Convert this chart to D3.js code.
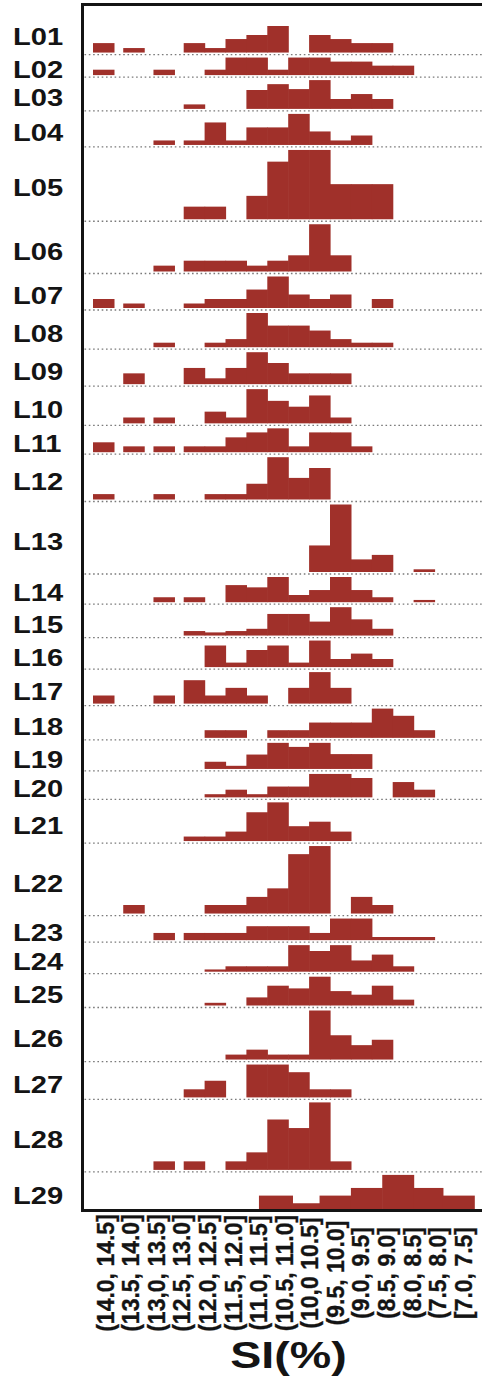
<!DOCTYPE html>
<html><head><meta charset="utf-8">
<script src="https://cdn.jsdelivr.net/npm/d3@7"></script>
<style>html,body{margin:0;padding:0;background:#fff;} svg{display:block;}</style>
</head><body>
<svg id="chart" width="482" height="1384"></svg>
<script>
// ---- data ----
const binLabels = ["(14.0, 14.5]", "(13.5, 14.0]", "(13,0, 13.5]", "(12.5, 13.0]", "(12.0, 12.5]",
  "(11.5, 12.0]", "(11.0, 11.5]", "(10.5, 11.0]", "(10,0 10.5]", "(9.5, 10.0]",
  "(9.0, 9.5]", "(8.5, 9.0]", "(8.0, 8.5]", "(7.5, 8.0]", "[7.0, 7.5]"];
const binUpper = [14.5, 14.0, 13.5, 13.0, 12.5, 12.0, 11.5, 11.0, 10.5, 10.0, 9.5, 9.0, 8.5, 8.0, 7.5];
const rowNames = ["L01","L02","L03","L04","L05","L06","L07","L08","L09","L10","L11","L12","L13","L14",
  "L15","L16","L17","L18","L19","L20","L21","L22","L23","L24","L25","L26","L27","L28","L29"];
const L01 = [2.1,1.0,0,2.1,1.0,3.0,3.9,5.9,0,3.9,3.0,2.1,2.1,0,0];
const L02 = [1.2,0,1.2,0,1.2,3.9,3.9,1.2,3.9,3.9,3.0,3.0,2.1,2.1,0];
const L03 = [0,0,0,1.0,0,0,4.2,5.5,4.4,6.4,2.2,3.3,2.2,0,0];
const L04 = [0,0,1.0,1.0,5.0,1.0,3.9,3.9,6.9,3.0,1.0,2.1,0,0,0];
const L05 = [0,0,0,2.8,2.8,0,5.2,12.8,15.4,15.4,7.8,7.8,7.8,0,0];
const L06 = [0,0,1.3,2.4,2.4,2.4,1.3,2.4,3.6,10.5,3.6,0,0,0,0];
const L07 = [2.0,1.0,0,1.0,2.0,2.0,4.1,7.0,3.0,2.0,3.0,0,2.0,0,0];
const L08 = [0,0,1.0,0,1.0,1.8,7.6,4.8,4.8,3.7,1.8,1.0,1.0,0,0];
const L09 = [0,2.4,0,3.6,1.3,3.6,7.1,4.7,2.4,2.4,2.4,0,0,0,0];
const L10 = [0,1.3,1.3,0,2.6,1.3,7.6,5.0,3.7,6.2,1.3,0,0,0,0];
const L11 = [2.2,1.3,1.3,1.3,1.3,3.3,4.4,5.3,1.3,4.4,4.4,1.3,0,0,0];
const L12 = [1.2,0,1.2,0,1.2,1.2,3.5,9.4,4.8,7.0,0,0,0,0,0];
const L13 = [0,0,0,0,0,0,0,0,0,5.9,15.0,2.8,3.8,0,0.6];
const L14 = [0,0,1.1,1.1,0,3.8,3.3,5.6,1.6,2.7,5.6,2.7,1.1,0,0.5];
const L15 = [0,0,0,1.0,0.7,1.0,1.5,4.8,4.8,3.1,6.3,3.6,1.5,0,0];
const L16 = [0,0,0,0,4.8,1.0,3.8,4.8,1.0,5.9,1.8,3.0,1.8,0,0];
const L17 = [1.8,0,1.8,5.2,1.8,3.5,1.8,0,3.5,7.0,3.5,0,0,0,0];
const L18 = [0,0,0,0,1.7,1.7,0,1.7,1.7,3.4,3.4,3.4,6.5,4.9,1.7];
const L19 = [0,0,0,0,1.6,0.7,3.2,5.8,4.9,5.8,3.3,3.3,0,0,0];
const L20 = [0,0,0,0,0.7,1.7,0.7,2.4,2.4,5.2,5.2,4.3,0,3.4,1.7];
const L21 = [0,0,0,1.0,1.0,2.1,6.4,8.6,3.3,4.3,2.1,0,0,0,0];
const L22 = [0,1.9,0,0,1.9,1.9,3.7,5.6,13.2,15.0,0,3.7,1.9,0,0];
const L23 = [0,0,1.6,1.6,1.6,1.6,3.1,3.1,3.1,1.6,4.8,4.8,0.7,0.7,0.7];
const L24 = [0,0,0,0,0.5,1.2,1.2,1.2,5.9,4.6,5.9,2.5,3.8,1.2,0];
const L25 = [0,0,0,0,0.6,0,1.8,4.4,3.8,6.4,3.2,2.4,4.4,1.3,0];
const L26 = [0,0,0,0,0,1.1,2.2,1.1,1.1,10.9,5.4,3.2,4.4,0,0];
const L27 = [0,0,0,1.8,3.7,0,7.3,7.3,5.6,1.8,1.8,0,0,0,0];
const L28 = [0,0,1.9,1.9,0,1.9,3.9,11.2,9.3,15.0,1.9,0,0,0,0];
// L29 was binned on its own, wider intervals
const L29Edges = [11.2, 10.4, 9.75, 9.0, 8.25, 7.5, 6.8, 6.05];
const L29 = [3.0, 1.3, 3.0, 4.7, 7.6, 4.7, 3.0];
const axisTitle = "SI(%)";

// ---- layout ----
const svg = d3.select("#chart");
const ink = "#141414", barColor = "#a0302a";
const font = "'Liberation Sans', Arial, sans-serif";
const frameLeft = 82.5, frameTop = 4.5, W = 482;
const unit = 4.5;         // px per frequency unit
const gap = 5, topPad = 21.5;

const x = d3.scaleLinear().domain([14.5, 13.0, 7.0]).range([93.3, 184, 434.8]);
const bw = x(12.5) - x(13.0);
const hScale = d3.scaleLinear().domain([0, 1]).range([0, unit]);

const mainRows = [L01,L02,L03,L04,L05,L06,L07,L08,L09,L10,L11,L12,L13,L14,L15,L16,L17,L18,L19,L20,
  L21,L22,L23,L24,L25,L26,L27,L28];
const rows = rowNames.map((name, i) => {
  if (i < mainRows.length) {
    return {name, bars: mainRows[i].map((v, j) => ({x0: binUpper[j], x1: binUpper[j] - 0.5, v, narrow: true}))};
  }
  return {name, bars: L29.map((v, j) => ({x0: L29Edges[j], x1: L29Edges[j + 1], v, narrow: false}))};
});
let prev = null;
rows.forEach((r, i) => {
  const mx = d3.max(r.bars, d => d.v);
  r.base = (i === 0 ? frameTop + topPad : prev.base + gap) + hScale(mx);
  r.top = i === 0 ? frameTop + 4 : prev.base;
  prev = r;
});
const bottomY = rows[rows.length - 1].base + 1.3;

// dotted baselines
svg.append("g").selectAll("line").data(rows.slice(0, -1)).join("line")
  .attr("x1", frameLeft + 2).attr("x2", W)
  .attr("y1", d => d.base + 2).attr("y2", d => d.base + 2)
  .attr("stroke", "#7a7a7a").attr("stroke-width", 1.3).attr("stroke-dasharray", "1.6 2.7");

// bars
const rg = svg.append("g").selectAll("g").data(rows).join("g");
rg.selectAll("rect").data(d => d.bars.filter(b => b.v > 0).map(b => ({...b, base: d.base}))).join("rect")
  .attr("x", b => x(b.x0) - 0.3)
  .attr("width", b => (b.narrow ? bw : x(b.x1) - x(b.x0)) + 0.6)
  .attr("y", b => b.base - hScale(b.v))
  .attr("height", b => hScale(b.v))
  .attr("fill", barColor);

// row labels
svg.append("g").selectAll("text").data(rows).join("text")
  .attr("transform", d => `translate(13,${(d.top + d.base) / 2 + 6 + 8.3}) scale(1.25,1)`)
  .attr("font-family", font).attr("font-weight", "bold")
  .attr("font-size", 23.3).attr("fill", ink)
  .text(d => d.name);

// frame
svg.append("line").attr("x1", frameLeft).attr("x2", frameLeft).attr("y1", frameTop - 1.5).attr("y2", bottomY + 1.5)
  .attr("stroke", ink).attr("stroke-width", 3);
svg.append("line").attr("x1", frameLeft - 1.5).attr("x2", W).attr("y1", frameTop).attr("y2", frameTop)
  .attr("stroke", ink).attr("stroke-width", 3);
svg.append("line").attr("x1", frameLeft - 1.5).attr("x2", W).attr("y1", bottomY).attr("y2", bottomY)
  .attr("stroke", ink).attr("stroke-width", 3);

// bin labels (rotated)
const xl = d3.scalePoint().domain(binLabels).range([105, 463]);
const ax = svg.append("g").attr("transform", "translate(0,1273)")
  .call(d3.axisBottom(xl).tickSize(0));
ax.select(".domain").remove();
ax.selectAll("text")
  .attr("transform", "rotate(-90)")
  .attr("x", 0).attr("y", 0).attr("dy", "0.36em")
  .attr("text-anchor", "middle")
  .attr("font-family", font).attr("font-weight", "bold")
  .attr("font-size", 23).attr("fill", ink)
  .attr("stroke", ink).attr("stroke-width", 0.35);

// axis title
svg.append("text")
  .attr("transform", "translate(288.5,1368) scale(1.26,1)")
  .attr("text-anchor", "middle")
  .attr("font-family", font).attr("font-weight", "bold")
  .attr("font-size", 37).attr("fill", ink)
  .text(axisTitle);
</script>
</body></html>
